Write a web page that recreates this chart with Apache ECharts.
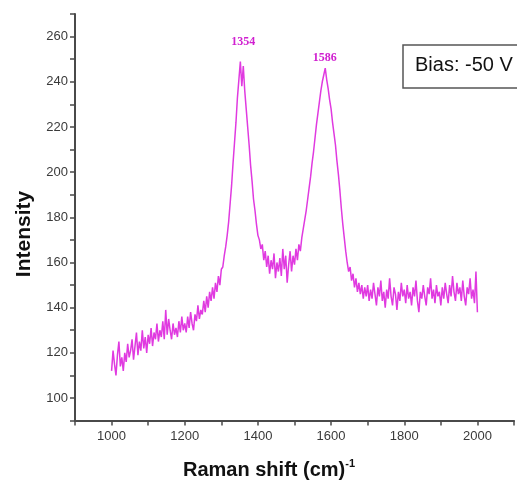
<!DOCTYPE html>
<html>
<head>
<meta charset="utf-8">
<script src="https://cdn.jsdelivr.net/npm/echarts@6/dist/echarts.min.js"></script>
<style>html,body{margin:0;padding:0;background:#fff}#c{width:517px;height:492px}</style>
</head>
<body>
<div id="c"></div>
<script>
// Raman shift sampling: 1000..2000 cm^-1, every 4 cm^-1
const shiftStart = 1000;
const shiftStep = 4;
// Intensity values (one per sample)
const intensity = [
112,121,115,110,119,125,114,118,112,120,116,124,118,121,126,117,123,129,119,125,121,130,122,127,120,128,
124,131,123,129,126,133,125,130,127,134,126,139,128,135,130,126,133,128,131,127,134,129,136,130,133,
129,136,131,138,133,130,137,134,141,135,139,137,143,138,145,140,147,143,149,144,151,147,154,150,157,
158,163,167,172,178,186,194,204,213,222,233,241,249,238,247,236,228,220,212,203,196,188,183,177,172,
170,166,168,161,165,158,163,155,161,157,164,153,160,156,162,154,166,157,163,151,159,165,156,163,159,
166,161,168,165,171,175,179,183,188,193,198,204,209,215,221,226,231,236,240,243,246,241,237,232,228,
222,217,212,205,199,192,184,177,171,165,160,156,158,152,155,149,153,147,151,146,150,144,149,145,150,
143,148,144,151,146,141,149,145,152,143,147,140,148,144,153,145,141,149,146,139,147,143,151,145,148,
142,150,144,147,141,149,145,152,143,138,147,144,150,145,141,149,146,153,144,148,142,150,145,147,141,
149,144,151,146,142,150,145,154,147,143,151,146,149,143,152,145,141,149,146,153,144,148,142,156,138
];
const peakLabels = ['1354', '1586'];
const peakLabelPos = [[1360, 257.5], [1583, 250.5]];
const xTickLabels = [1000, 1200, 1400, 1600, 1800, 2000];
const yTickLabels = [100, 120, 140, 160, 180, 200, 220, 240, 260];
const legendText = 'Bias: -50 V';
const yTitle = 'Intensity';

const seriesData = intensity.map((v, i) => [shiftStart + i * shiftStep, v]);

const chart = echarts.init(document.getElementById('c'), null, {renderer: 'canvas'});
const axisCol = '#4a4a4a';
const font = 'Arial, "Liberation Sans", Helvetica, sans-serif';
chart.setOption({
  animation: false,
  backgroundColor: '#fff',
  grid: {left: 75, top: 14, right: 0, bottom: 71.4, containLabel: false},
  xAxis: {
    type: 'value', min: 900, max: 2100, interval: 100,
    axisLine: {lineStyle: {color: axisCol, width: 2}},
    axisTick: {inside: false, length: 5, lineStyle: {color: axisCol, width: 1.5}},
    splitLine: {show: false},
    axisLabel: {
      margin: 9, fontSize: 13, color: '#3a3a3a', fontFamily: font,
      formatter: v => xTickLabels.indexOf(v) >= 0 ? String(v) : ''
    }
  },
  yAxis: {
    type: 'value', min: 90, max: 270, interval: 10,
    axisLine: {show: true, lineStyle: {color: axisCol, width: 2}},
    axisTick: {show: true, inside: false, length: 5, lineStyle: {color: axisCol, width: 1.5}},
    splitLine: {show: false},
    axisLabel: {
      margin: 7, fontSize: 13, color: '#3a3a3a', fontFamily: font,
      formatter: v => yTickLabels.indexOf(v) >= 0 ? String(v) : ''
    }
  },
  series: [{
    type: 'line', data: seriesData, showSymbol: false, symbol: 'none',
    lineStyle: {color: '#e03ae0', width: 1.5},
    markPoint: {
      symbol: 'circle', symbolSize: 0,
      label: {show: true, position: 'inside', color: '#d020d0', fontSize: 12, fontWeight: 'bold',
              fontFamily: '"Liberation Serif", "Times New Roman", serif',
              formatter: p => p.name},
      data: peakLabels.map((t, i) => ({name: t, coord: peakLabelPos[i]}))
    }
  }],
  graphic: [
    {type: 'rect', shape: {x: 403, y: 45, width: 130, height: 43},
     style: {fill: '#fff', stroke: '#555', lineWidth: 1.5}, z: 10},
    {type: 'text', left: 415, top: 55, z: 11,
     style: {text: legendText, fontSize: 20, fill: '#111', fontFamily: font}},
    {type: 'text', x: 24, y: 234, rotation: Math.PI / 2, z: 11,
     style: {text: yTitle, fontSize: 21, fontWeight: 'bold', fill: '#111', fontFamily: font,
             align: 'center', verticalAlign: 'middle'}},
    {type: 'text', left: 183, top: 458, z: 11,
     style: {
       text: '{a|Raman shift (cm)}{b|-1}',
       rich: {
         a: {fontSize: 20, fontWeight: 'bold', fill: '#111', fontFamily: font},
         b: {fontSize: 11, fontWeight: 'bold', fill: '#111', fontFamily: font, verticalAlign: 'top', padding: [0,0,14,0]}
       }
     }}
  ]
});
</script>
</body>
</html>
